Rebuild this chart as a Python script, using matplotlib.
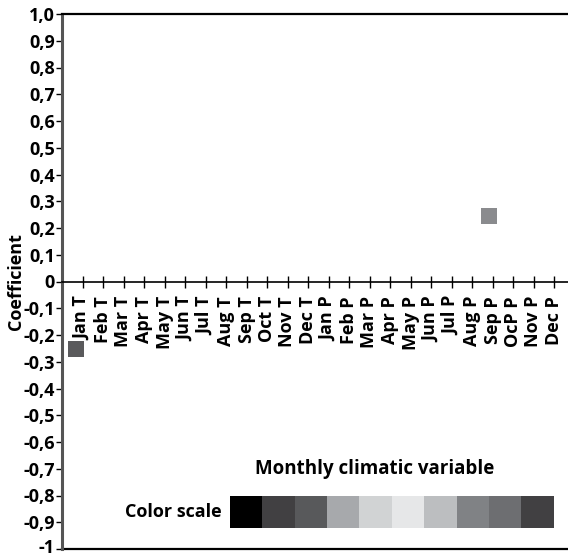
import numpy as np
import matplotlib.pyplot as plt
from matplotlib.colors import to_rgb
from matplotlib.transforms import ScaledTranslation

plt.rcParams['font.family'] = ['Open Sans', 'DejaVu Sans']
plt.rcParams['font.weight'] = 'bold'

# categorias (meses de temperatura e precipitacao)
categories = ['Jan T', 'Feb T', 'Mar T', 'Apr T', 'May T', 'Jun T', 'Jul T', 'Aug T',
              'Sep T', 'Oct T', 'Nov T', 'Dec T', 'Jan P', 'Feb P', 'Mar P', 'Apr P',
              'May P', 'Jun P', 'Jul P', 'Aug P', 'Sep P', 'OcP P', 'Nov P', 'Dec P']

# coeficientes significativos
point_cats = ['Jan T', 'Sep P']
point_vals = [-0.254, 0.245]
point_colors = ['#5a5a5c', '#8a8b8e']
point_shift = [-0.32, -0.15]

# escala de cores
scale_colors = ['#000000', '#414042', '#58595b', '#a7a9ac', '#d1d3d4',
                '#e6e7e8', '#bcbec0', '#808285', '#6d6e71', '#414042']

yticks = np.round(np.arange(-1.0, 1.01, 0.1), 1)


def fmt(v):
    if abs(v) < 1e-9:
        return '0'
    if v == -1.0:
        return '-1'
    return f'{v:.1f}'.replace('.', ',')


W, H = 568, 555
fig = plt.figure(figsize=(W / 100, H / 100), dpi=100)
ax = fig.add_axes([62 / W, 1 - 549 / H, (W - 62) / W, (549 - 14) / H])

x = np.arange(1, len(categories) + 1)
ax.set_xlim(0, (W - 62) / 20.5)
ax.set_ylim(-1, 1)

# eixo x na linha do zero
ax.spines['bottom'].set_position(('data', 0))
ax.spines['bottom'].set_linewidth(1.2)
ax.spines['right'].set_visible(False)
ax.spines['top'].set_linewidth(1.6)
ax.spines['left'].set_color('#555555')
ax.spines['left'].set_linewidth(2.2)
ax.axhline(-1, color='black', lw=1.6, clip_on=False)

ax.set_xticks(x)
ax.set_xticklabels(categories, rotation=90, fontsize=13, fontweight='bold', va='top')
ax.tick_params(axis='x', direction='inout', length=9, width=1.0, pad=6)
ax.set_yticks(yticks)
ax.set_yticklabels([fmt(v) for v in yticks], fontsize=13, fontweight='bold')
ax.tick_params(axis='y', direction='out', length=4, width=1.0, pad=1)
ax.set_ylabel('Coefficient', fontsize=13, fontweight='bold', labelpad=-1)

# sobe um pouco o rotulo -1 para nao cortar na borda
lab = ax.get_yticklabels()[0]
lab.set_transform(lab.get_transform() + ScaledTranslation(0, 2.5 / 72, fig.dpi_scale_trans))

for c, v, col, s in zip(point_cats, point_vals, point_colors, point_shift):
    ax.plot(categories.index(c) + 1 + s, v, marker='s', ms=11.5, color=col,
            markeredgewidth=0, linestyle='none')

fig.text(375 / W, 1 - 469 / H, 'Monthly climatic variable', ha='center', va='center',
         fontsize=13.5, fontweight='bold')
fig.text(222 / W, 1 - 512 / H, 'Color scale', ha='right', va='center',
         fontsize=13, fontweight='bold')

cax = fig.add_axes([230 / W, 1 - 528 / H, 324 / W, 32 / H])
cax.imshow([[to_rgb(c) for c in scale_colors]], aspect='auto', interpolation='nearest')
cax.axis('off')

fig.savefig('out.png', dpi=100)
